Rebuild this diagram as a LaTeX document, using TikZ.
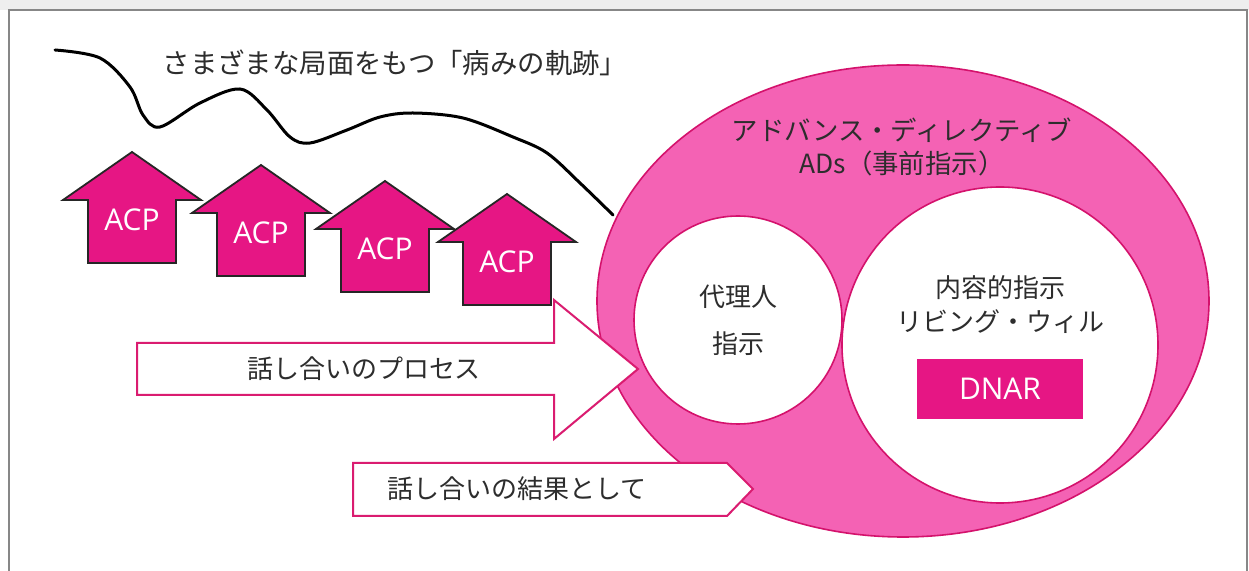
\documentclass[tikz,border=0pt]{standalone}
\usepackage{fontspec}
\setmainfont{Noto Sans CJK JP}
\newfontfamily\latinfont{Open Sans}
\definecolor{acpmag}{RGB}{230,22,132}
\definecolor{ringpink}{RGB}{244,98,180}
\definecolor{ringedge}{RGB}{212,18,108}
\definecolor{talkedge}{RGB}{218,28,112}
\definecolor{txt}{RGB}{45,45,45}
\definecolor{framegray}{RGB}{135,135,135}
\definecolor{topgray}{RGB}{238,238,238}
\newcommand\acparrow[3]{%
  \draw[acpshape] (#1-44,#2) -- (#1+44,#2) -- (#1+44,#2-63) -- (#1+69,#2-63) -- (#1,#2-111)
    -- (#1-69,#2-63) -- (#1-44,#2-63) -- cycle;
  \node[acplabel] (#3) at (#1,#2-43) {ACP};
}
\begin{document}
\begin{tikzpicture}[x=0.5pt,y=-0.5pt,
  acpshape/.style={fill=acpmag, draw=black!85, line width=0.9pt, line join=miter},
  acplabel/.style={text=white, font=\latinfont\fontsize{15}{18}\selectfont, inner sep=0pt},
  jptext/.style={text=txt, inner sep=0pt, align=center},
  talkarrow/.style={fill=white, draw=talkedge, line width=1pt, line join=miter},
  ring/.style={fill=white, draw=ringedge, line width=0.8pt, circle, inner sep=0pt},
]
\useasboundingbox (0,0) rectangle (1249,571);
\fill[white] (0,0) rectangle (1249,571);
\fill[topgray] (0,0) rectangle (1249,10);
\draw[framegray, line width=1pt] (9,571) -- (9,10) -- (1247,10) -- (1247,571);

% trajectory curve
\draw[line width=1.5pt, line cap=round] plot[smooth, tension=0.55] coordinates {(55,50) (100,58) (130,87) (143,115) (160,127) (200,103) (240,89) (267,110) (290,137) (310,143) (347,130) (380,117) (413,113) (463,118) (513,137) (547,153) (580,183) (613,215)};
\node[jptext, font=\fontsize{13.7}{16}\selectfont] (title) at (395,63) {さまざまな局面をもつ「病みの軌跡」};

% ACP arrows
\acparrow{132}{263}{acp1}
\acparrow{261}{276}{acp2}
\acparrow{385}{292}{acp3}
\acparrow{507}{305}{acp4}

% advance directive ellipse
\draw[fill=ringpink, draw=ringedge, line width=0.8pt] (903,301) ellipse [x radius=306, y radius=236];
\coordinate (adsc) at (903,301);
\node[jptext, font=\fontsize{13.2}{16.5}\selectfont] (ads) at (902,147) {アドバンス・ディレクティブ\\ADs（事前指示）};

\node[ring, minimum size=104pt, font=\fontsize{13}{23.5}\selectfont, text=txt, align=center] (proxy) at (738,320) {代理人\\指示};
\node[ring, minimum size=158pt] (living) at (1000,345) {};
\node[jptext, font=\fontsize{13}{17}\selectfont] (livingtxt) at (1000,305) {内容的指示\\リビング・ウィル};
\node[fill=acpmag, minimum width=83pt, minimum height=30pt, inner sep=0pt, text=white, font=\latinfont\fontsize{15}{18}\selectfont] (dnar) at (1000,389) {DNAR};

% discussion arrows
\draw[talkarrow] (137,343) -- (554,343) -- (554,300) -- (638,369) -- (554,439) -- (554,395) -- (137,395) -- cycle;
\node[jptext, font=\fontsize{13}{16}\selectfont] (process) at (364,369) {話し合いのプロセス};
\draw[talkarrow] (353,463) -- (727,463) -- (753,489) -- (727,516) -- (353,516) -- cycle;
\node[jptext, font=\fontsize{13}{16}\selectfont] (result) at (517,489) {話し合いの結果として};
\end{tikzpicture}
\end{document}
